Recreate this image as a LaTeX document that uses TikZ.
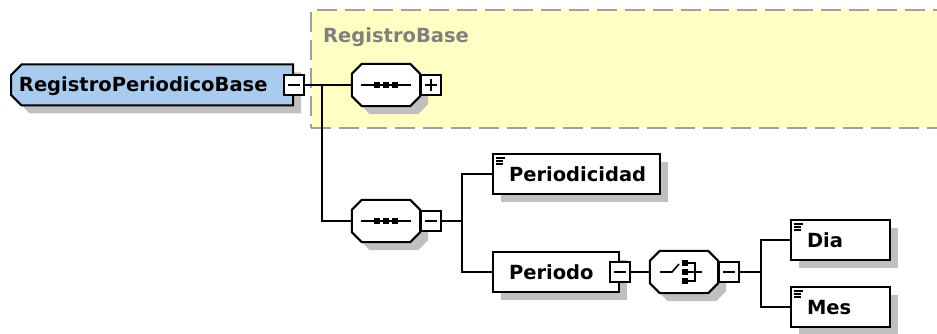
\documentclass[tikz,border=0pt]{standalone}
\usepackage{fontspec}
\setmainfont{DejaVu Sans}
\usepackage{xcolor}
\usetikzlibrary{shapes.misc,shadows,positioning}

\definecolor{rootblue}{RGB}{168,204,240}
\definecolor{groupyellow}{RGB}{255,255,196}
\definecolor{groupgray}{RGB}{160,160,160}
\definecolor{labelgray}{RGB}{128,128,128}
\definecolor{shadowgray}{RGB}{192,192,192}

% octagon round a node, shifted by (#2,#3)
\newcommand\octshape[4]{%
  \path[#4] ([shift={(#2+10pt,#3)}]#1.north west) -- ([shift={(#2-10pt,#3)}]#1.north east)
    -- ([shift={(#2,#3-10pt)}]#1.north east) -- ([shift={(#2,#3+10pt)}]#1.south east)
    -- ([shift={(#2-10pt,#3)}]#1.south east) -- ([shift={(#2+10pt,#3)}]#1.south west)
    -- ([shift={(#2,#3+10pt)}]#1.south west) -- ([shift={(#2,#3-10pt)}]#1.north west) -- cycle;}
\newcommand\octagon[1]{%
  \octshape{#1}{8pt}{-8pt}{fill=shadowgray}
  \octshape{#1}{0pt}{0pt}{draw, fill=white, line width=2pt}}
% sequence symbol
\newcommand\seqicon[1]{%
  \draw[line width=1.6pt] ([xshift=-25pt]#1.center) -- ([xshift=25pt]#1.center);
  \foreach \d in {-9,0,9}
    \fill ([xshift=\d pt]#1.center) +(-3.2pt,-3.2pt) rectangle +(3.2pt,3.2pt);}
% choice symbol
\newcommand\choiceicon[1]{%
  \draw[line width=1.6pt] ([xshift=-24pt]#1.center) -- ([xshift=-12pt]#1.center) -- ([shift={(-5pt,8pt)}]#1.center);
  \foreach \d in {-9,0,9}
    \fill ([shift={(1pt,\d pt)}]#1.center) +(-2.8pt,-3.2pt) rectangle +(2.8pt,3.2pt);
  \draw[line width=1.6pt] ([shift={(3pt,9pt)}]#1.center) -| ([shift={(11pt,-9pt)}]#1.center) -- ([shift={(3pt,-9pt)}]#1.center);
  \draw[line width=1.6pt] ([xshift=3pt]#1.center) -- ([xshift=18pt]#1.center);}

\begin{document}
\begin{tikzpicture}[x=1pt, y=-1pt,
    shade/.style={drop shadow={shadow xshift=8pt, shadow yshift=-8pt, fill=shadowgray, opacity=1}},
    txt/.style={font=\fontsize{19.5}{22}\selectfont\bfseries, text height=14pt, text depth=0pt},
    group/.style={draw=groupgray, fill=groupyellow, line width=2pt, dash pattern=on 20pt off 8pt, anchor=north west, inner sep=0pt},
    root/.style={chamfered rectangle, chamfered rectangle corners={north west,south west}, chamfered rectangle xsep=7pt,
        draw, fill=rootblue, line width=2pt, txt, shade, anchor=west, minimum height=41pt,
        inner xsep=1pt, text width=266pt, align=left},
    elem/.style={draw, fill=white, line width=2pt, txt, shade, anchor=north west, minimum height=40pt,
        inner xsep=16pt, align=left},
    simple/.style={elem, path picture={
        \foreach \k/\l in {4/9, 7/7, 10/7}
          \draw[line width=1.3pt] ([shift={(3pt,-\k pt)}]path picture bounding box.north west) -- ++(\l pt,0pt);}},
    compositor/.style={minimum width=68pt, minimum height=42pt, inner sep=0pt},
    pm/.style={draw, fill=white, line width=1.6pt, minimum width=20pt, minimum height=20pt, inner sep=0pt},
    minus/.style={pm, path picture={
        \draw[line width=1.5pt] ([xshift=-6pt]path picture bounding box.center) -- ([xshift=6pt]path picture bounding box.center);}},
    plus/.style={pm, path picture={
        \draw[line width=1.5pt] ([xshift=-6pt]path picture bounding box.center) -- ([xshift=6pt]path picture bounding box.center);
        \draw[line width=1.5pt] ([yshift=-6pt]path picture bounding box.center) -- ([yshift=6pt]path picture bounding box.center);}},
    conn/.style={line width=1.8pt},
]
\useasboundingbox (0,0) rectangle (937,334);

% Group
\node[group, minimum width=640pt, minimum height=118pt] (grp) at (310,9) {};
\node[txt, text=labelgray, anchor=west, inner sep=0pt] (grplabel) at (323,36) {RegistroBase};

% Root element
\node[root] (root) at (10,85) {RegistroPeriodicoBase};
\node[minus] (rootpm) at (root.east) {};

% Sequences
\node[compositor] (seq1) at (386,85) {};
\octagon{seq1}
\seqicon{seq1}
\node[plus, right=0pt of seq1] (seq1pm) {};
\node[compositor] (seq2) at (386,221) {};
\octagon{seq2}
\seqicon{seq2}
\node[minus, right=0pt of seq2] (seq2pm) {};

% Elements
\node[simple, text width=135pt] (periodicidad) at (492,153) {Periodicidad};
\node[elem, text width=94pt] (periodo) at (492,251) {Periodo};
\node[minus] (periodopm) at (periodo.east) {};
\node[compositor] (choice) at (684,272) {};
\octagon{choice}
\choiceicon{choice}
\node[minus, right=0pt of choice] (choicepm) {};
\node[simple, text width=67pt] (dia) at (790,219) {Dia};
\node[simple, text width=67pt] (mes) at (790,286) {Mes};

% Junctions
\coordinate (j1) at (322,85);
\coordinate (j2) at (462,221);
\coordinate (j3) at (761,272);

% Connectors
\draw[conn] (rootpm.east) -- (seq1.west);
\draw[conn] (j1) |- (seq2.west);
\draw[conn] (seq2pm.east) -- (j2);
\draw[conn] (j2) |- (periodicidad.west);
\draw[conn] (j2) |- (periodo.west);
\draw[conn] (periodopm.east) -- (choice.west);
\draw[conn] (choicepm.east) -- (j3);
\draw[conn] (j3) |- (dia.west);
\draw[conn] (j3) |- (mes.west);

\end{tikzpicture}
\end{document}
